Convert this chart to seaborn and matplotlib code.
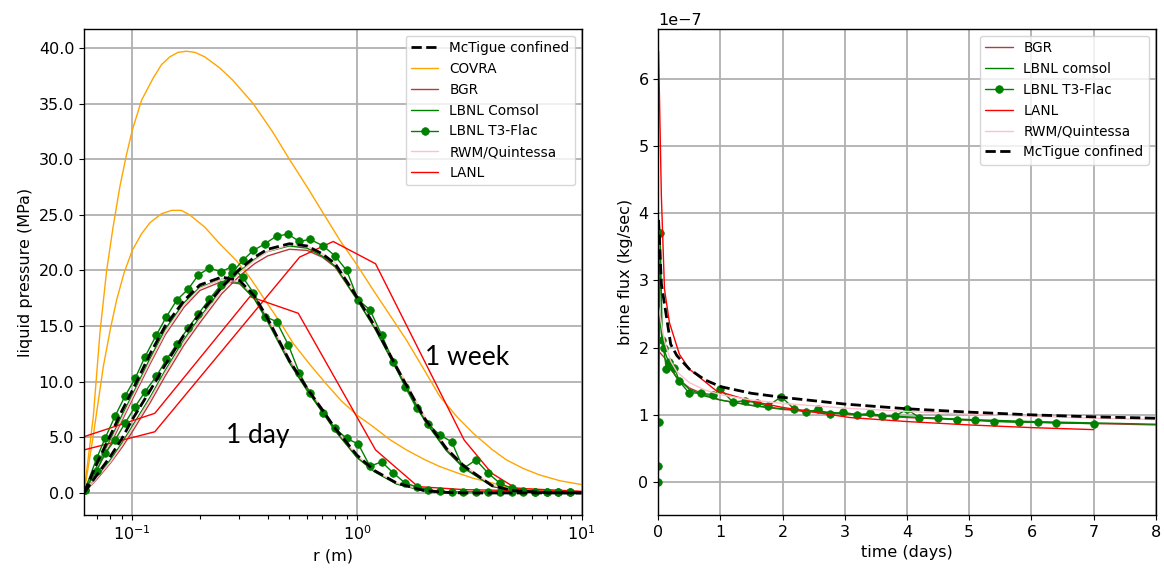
import matplotlib
matplotlib.use("Agg")
import matplotlib.pyplot as plt
import seaborn as sns
from matplotlib.ticker import FormatStrFormatter, MultipleLocator, LogLocator

# ---------------- data: left panel (liquid pressure, MPa vs r, m) ----------------
R = [0.061, 0.07, 0.08, 0.09, 0.1, 0.12, 0.14, 0.17, 0.2, 0.25, 0.3, 0.35, 0.4,
     0.5, 0.6, 0.7, 0.8, 1.0, 1.2, 1.5, 2.0, 2.5, 3.0, 4.0, 5.0, 7.0, 10.0]

mctigue_day = [0, 2.8, 5.2, 7.4, 9.2, 12.5, 15.0, 17.3, 18.7, 19.4, 19.1, 17.7, 15.7,
               11.9, 9.4, 7.5, 5.8, 3.4, 2.0, 0.9, 0.2, 0.05, 0, 0, 0, 0, 0]
mctigue_week = [0, 1.7, 3.3, 4.9, 6.6, 9.2, 11.5, 14.2, 16.1, 18.5, 20.1, 21.2, 21.9,
                22.4, 22.2, 21.5, 20.6, 17.6, 15.0, 11.3, 6.7, 4.0, 2.4, 0.65, 0.2, 0.03, 0]

bgr_day = [0, 2.2, 4.4, 6.5, 8.4, 11.6, 14.2, 16.7, 18.2, 19.0, 18.8, 17.5, 15.6,
           11.9, 9.3, 7.3, 5.6, 3.2, 1.9, 0.85, 0.2, 0.05, 0, 0, 0, 0, 0]
bgr_week = [0, 1.3, 2.7, 4.1, 5.5, 8.1, 10.5, 13.3, 15.3, 17.9, 19.5, 20.6, 21.3,
            21.9, 21.8, 21.2, 20.3, 17.4, 14.8, 11.2, 6.6, 3.9, 2.3, 0.6, 0.18, 0.02, 0]

comsol_day = [0, 2.5, 4.8, 7.0, 8.8, 12.1, 14.7, 17.1, 18.5, 19.2, 18.9, 17.4, 15.4,
              11.7, 9.2, 7.3, 5.6, 3.2, 1.9, 0.8, 0.18, 0.04, 0, 0, 0, 0, 0]
comsol_week = [0, 1.5, 3.0, 4.5, 6.0, 8.6, 11.0, 13.8, 15.8, 18.3, 19.9, 21.0, 21.7,
               22.2, 22.0, 21.3, 20.4, 17.4, 14.8, 11.1, 6.5, 3.8, 2.2, 0.6, 0.17, 0.02, 0]

quint_day = [0, 2.3, 4.6, 6.7, 8.6, 11.8, 14.4, 16.9, 18.4, 19.2, 19.0, 17.7, 15.8,
             12.1, 9.5, 7.6, 5.8, 3.4, 2.0, 0.9, 0.22, 0.06, 0.01, 0, 0, 0, 0]
quint_week = [0, 1.4, 2.8, 4.3, 5.8, 8.4, 10.8, 13.6, 15.6, 18.2, 19.8, 20.9, 21.7,
              22.3, 22.2, 21.5, 20.7, 17.8, 15.2, 11.5, 6.9, 4.1, 2.5, 0.7, 0.22, 0.03, 0]

T3_R = [0.0616, 0.0694, 0.0756, 0.0838, 0.0928, 0.103, 0.114, 0.128, 0.142, 0.158,
        0.177, 0.197, 0.220, 0.248, 0.277, 0.310, 0.346, 0.390, 0.439, 0.495,
        0.554, 0.618, 0.708, 0.799, 0.900, 1.013, 1.143, 1.288, 1.451, 1.636,
        1.845, 2.077, 2.342, 2.640, 2.972, 3.385, 3.840, 4.329, 4.881, 5.497,
        6.197, 6.987, 7.871, 8.872]
t3_day = [0.3, 3.1, 4.9, 6.9, 8.7, 10.3, 12.25, 14.2, 15.85, 17.35,
          18.3, 19.6, 20.2, 19.9, 20.3, 19.4, 18.0, 15.85, 15.4, 13.3,
          10.8, 9.0, 7.2, 5.8, 4.9, 4.4, 2.4, 2.8, 1.8, 0.9,
          0.55, 0.3, 0.15, 0.1, 0.1, 0.1, 0.1, 0.1, 0.1, 0.1,
          0.1, 0.1, 0.1, 0.1]
t3_week = [0.3, 2.0, 3.57, 4.76, 6.27, 7.76, 9.1, 10.5, 12.0, 13.4,
           14.8, 16.1, 17.4, 18.7, 19.75, 20.9, 21.8, 22.4, 23.1, 23.25,
           22.6, 22.8, 22.2, 21.3, 20.0, 17.35, 16.45, 14.2, 11.8, 9.56,
           7.6, 6.17, 5.2, 4.6, 2.2, 2.97, 1.77, 0.87, 0.42, 0.2,
           0.12, 0.1, 0.1, 0.1]

COVRA_R_DAY = [0.061, 0.067, 0.0743, 0.08, 0.0852, 0.092, 0.1, 0.11, 0.12, 0.135,
               0.15, 0.165, 0.18, 0.21, 0.245, 0.29, 0.333, 0.4, 0.46, 0.52, 0.62,
               0.73, 0.85, 1.0, 1.18, 1.4, 1.66, 2.0, 2.34, 2.8, 3.29, 4.0, 4.63,
               6.5, 10.0]
covra_day = [0, 5.1, 11.35, 14.8, 17.35, 19.8, 21.8, 23.3, 24.3, 25.1,
             25.4, 25.4, 25.0, 23.9, 22.4, 20.9, 19.4, 17.0, 15.2, 13.45, 11.5,
             9.8, 8.3, 7.0, 5.96, 4.8, 3.87, 3.0, 2.37, 1.8, 1.32, 0.9, 0.57,
             0.27, 0.1]
COVRA_R_WEEK = [0.061, 0.0671, 0.0718, 0.0769, 0.082, 0.088, 0.094, 0.1, 0.11, 0.124,
                0.135, 0.147, 0.16, 0.174, 0.19, 0.21, 0.245, 0.28, 0.345, 0.42,
                0.5, 0.6, 0.7, 0.84, 1.0, 1.18, 1.4, 1.66, 2.0, 2.34, 2.8, 3.29,
                4.0, 4.63, 5.5, 6.5, 8.0, 10.0]
covra_week = [0, 6.9, 14.4, 20.0, 23.8, 27.5, 30.3, 32.6, 35.3, 37.3,
              38.5, 39.2, 39.6, 39.7, 39.6, 39.2, 38.2, 37.1, 35.0, 32.5,
              30.0, 27.5, 25.3, 22.7, 20.5, 18.25, 16.0, 13.75, 11.0, 8.66, 6.8, 5.37,
              3.9, 2.97, 2.2, 1.62, 1.1, 0.75]

LANL_R_DAY = [0.061, 0.126, 0.334, 0.548, 1.21, 1.87, 3.0, 10.0]
lanl_day = [5.06, 7.16, 17.65, 16.15, 3.87, 0.57, 0.3, 0.1]
LANL_R_WEEK = [0.061, 0.126, 0.556, 0.784, 1.21, 3.0, 3.98, 5.1, 10.0]
lanl_week = [3.87, 5.5, 21.2, 22.6, 20.6, 4.76, 1.77, 0.42, 0.15]

# ---------------- data: right panel (brine flux, kg/sec vs time, days) ----------------
FLUX_SCALE = 1e-7
T_RED = [0.005, 0.05, 0.1, 0.18, 0.34, 0.5, 0.93, 1.47, 2.0, 3.08, 4.0, 5.0, 6.0, 7.0]
lanl_flux = [6.41, 4.25, 2.87, 2.37, 1.90, 1.68, 1.36, 1.21, 1.11, 0.96, 0.90, 0.85, 0.81, 0.78]

T_SMOOTH = [0.005, 0.05, 0.1, 0.2, 0.3, 0.5, 0.75, 1.0, 1.5, 2.0, 3.0, 4.0, 5.0, 6.0, 7.0, 8.0]
mctigue_flux = [3.9, 2.95, 2.65, 2.05, 1.88, 1.68, 1.52, 1.42, 1.32, 1.26, 1.16, 1.09, 1.04, 1.0, 0.97, 0.95]
comsol_flux = [2.7, 2.2, 1.95, 1.7, 1.55, 1.38, 1.28, 1.22, 1.14, 1.09, 1.02, 0.97, 0.93, 0.9, 0.88, 0.86]
bgr_flux = [1.95, 1.9, 1.85, 1.68, 1.55, 1.40, 1.30, 1.22, 1.14, 1.08, 1.01, 0.96, 0.92, 0.89, 0.87, 0.85]
quint_flux = [2.6, 2.35, 2.1, 1.8, 1.64, 1.48, 1.37, 1.3, 1.22, 1.17, 1.1, 1.05, 1.01, 0.98, 0.95, 0.93]

T_T3 = [0.0, 0.003, 0.006, 0.03, 0.064, 0.085, 0.13, 0.18, 0.26, 0.34, 0.49, 0.69, 0.88,
        1.0, 1.2, 1.39, 1.58, 1.76, 1.98, 2.19, 2.38, 2.57, 2.76, 2.97, 3.2, 3.4, 3.6,
        3.8, 4.0, 4.2, 4.5, 4.8, 5.1, 5.4, 5.8, 6.1, 6.4, 7.0]
t3_flux = [0.0, 0.24, 0.89, 3.71, 2.12, 2.0, 1.68, 1.78, 1.70, 1.50, 1.33, 1.32, 1.30,
           1.38, 1.19, 1.21, 1.18, 1.13, 1.27, 1.08, 1.04, 1.08, 1.01, 1.04, 1.0, 1.02, 0.99,
           0.98, 1.08, 0.96, 0.95, 0.93, 0.92, 0.90, 0.89, 0.89, 0.88, 0.87]

# ---------------- styling ----------------
sns.set_style("ticks", {"axes.grid": True, "grid.color": "#b0b0b0",
                        "axes.edgecolor": "black", "xtick.color": "black",
                        "ytick.color": "black", "axes.labelcolor": "black",
                        "text.color": "black"})
plt.rcParams['font.family'] = ['DejaVu Sans']
plt.rcParams['xtick.labelsize'] = 11.5
plt.rcParams['ytick.labelsize'] = 11.5
plt.rcParams['axes.labelsize'] = 11.5
plt.rcParams['grid.linewidth'] = 1.3
plt.rcParams['axes.linewidth'] = 1.0

C_COVRA = "orange"
C_BGR = "#b83a3a"
C_COMSOL = "green"
C_T3 = "green"
C_QUINT = "pink"
C_LANL = "red"

fig, (ax1, ax2) = plt.subplots(1, 2, figsize=(11.64, 5.68), dpi=100)
fig.subplots_adjust(left=0.0722, right=0.993, bottom=0.0933, top=0.949, wspace=0.154)

def line(ax, x, y, color, lw=1.0, label=None, **kw):
    sns.lineplot(x=x, y=y, ax=ax, color=color, lw=lw, label=label,
                 sort=False, estimator=None, **kw)

# left panel
ax1.set_xscale("log")
line(ax1, COVRA_R_DAY, covra_day, C_COVRA, label="COVRA")
line(ax1, COVRA_R_WEEK, covra_week, C_COVRA)
line(ax1, R, bgr_day, C_BGR, label="BGR")
line(ax1, R, bgr_week, C_BGR)
line(ax1, R, comsol_day, C_COMSOL, label="LBNL Comsol")
line(ax1, R, comsol_week, C_COMSOL)
line(ax1, R, quint_day, C_QUINT, label="RWM/Quintessa")
line(ax1, R, quint_week, C_QUINT)
line(ax1, LANL_R_DAY, lanl_day, C_LANL, label="LANL")
line(ax1, LANL_R_WEEK, lanl_week, C_LANL)
mk = dict(marker="o", markersize=5.5, markeredgecolor=C_T3, markeredgewidth=0.5)
line(ax1, T3_R, t3_day, C_T3, label="LBNL T3-Flac", **mk)
line(ax1, T3_R, t3_week, C_T3, **mk)
line(ax1, R, mctigue_day, "black", lw=2.0, label="McTigue confined", linestyle="--")
line(ax1, R, mctigue_week, "black", lw=2.0, linestyle="--")

ax1.set_xlim(0.061, 10)
ax1.set_ylim(-1.98, 41.7)
ax1.yaxis.set_major_locator(MultipleLocator(5))
ax1.yaxis.set_major_formatter(FormatStrFormatter("%.1f"))
ax1.xaxis.set_minor_locator(LogLocator(base=10, subs=[2, 3, 4, 5, 6, 7, 8, 9], numticks=12))
ax1.tick_params(axis="x", which="minor", length=3, width=0.8, bottom=True)
ax1.set_xlabel("r (m)")
ax1.set_ylabel("liquid pressure (MPa)")
ax1.grid(True, which="major")
ax1.grid(False, which="minor")

order1 = ["McTigue confined", "COVRA", "BGR", "LBNL Comsol", "LBNL T3-Flac",
          "RWM/Quintessa", "LANL"]
h, l = ax1.get_legend_handles_labels()
d = dict(zip(l, h))
ax1.legend([d[k] for k in order1], order1, loc="upper right", fontsize=9.8,
           framealpha=0.8, edgecolor="#cccccc", fancybox=True)

ax1.text(0.349, 0.163, "1 day", transform=ax1.transAxes, fontsize=19,
         family=["Lato", "DejaVu Sans"], ha="center", va="center")
ax1.text(0.769, 0.325, "1 week", transform=ax1.transAxes, fontsize=19,
         family=["Lato", "DejaVu Sans"], ha="center", va="center")

# right panel
scale = lambda v: [x * FLUX_SCALE for x in v]
line(ax2, T_SMOOTH, scale(bgr_flux), C_BGR, label="BGR")
line(ax2, T_SMOOTH, scale(comsol_flux), C_COMSOL, label="LBNL comsol")
line(ax2, T_T3, scale(t3_flux), C_T3, label="LBNL T3-Flac", **mk)
line(ax2, T_RED, scale(lanl_flux), C_LANL, label="LANL")
line(ax2, T_SMOOTH, scale(quint_flux), C_QUINT, label="RWM/Quintessa")
line(ax2, T_SMOOTH, scale(mctigue_flux), "black", lw=2.0, label="McTigue confined",
     linestyle="--")

ax2.set_xlim(0, 8)
ax2.set_ylim(-0.49e-7, 6.74e-7)
ax2.xaxis.set_major_locator(MultipleLocator(1))
ax2.yaxis.set_major_locator(MultipleLocator(1e-7))
ax2.set_xlabel("time (days)")
ax2.set_ylabel("brine flux (kg/sec)")
ax2.grid(True)
ax2.yaxis.get_offset_text().set_fontsize(11.5)
order2 = ["BGR", "LBNL comsol", "LBNL T3-Flac", "LANL", "RWM/Quintessa", "McTigue confined"]
h, l = ax2.get_legend_handles_labels()
d = dict(zip(l, h))
ax2.legend([d[k] for k in order2], order2, loc="upper right", fontsize=9.8,
           framealpha=0.8, edgecolor="#cccccc", fancybox=True)

fig.savefig("out.png", dpi=100)
